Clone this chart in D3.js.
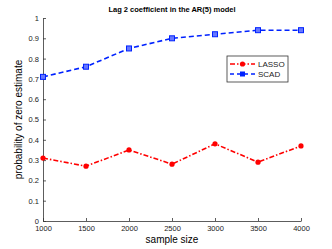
<!DOCTYPE html>
<html>
<head>
<meta charset="utf-8">
<script src="https://cdn.jsdelivr.net/npm/d3@7"></script>
<style>
  body { margin: 0; background: #fff; }
  svg { font-family: "Liberation Sans", Arial, sans-serif; }
</style>
</head>
<body>
<div id="container"></div>
<script>
const sampleSizes = [1000, 1500, 2000, 2500, 3000, 3500, 4000];
const lassoValues = [0.31, 0.27, 0.35, 0.28, 0.38, 0.29, 0.37];
const scadValues = [0.71, 0.76, 0.85, 0.90, 0.92, 0.94, 0.94];
const yTicks = [0, 0.1, 0.2, 0.3, 0.4, 0.5, 0.6, 0.7, 0.8, 0.9, 1];

const w = 332;
const h = 249;
const padLeft = 43, padRight = 301, padTop = 18, padBottom = 221;

const x = d3.scaleLinear().domain([1000, 4000]).range([padLeft, padRight]);
const y = d3.scaleLinear().domain([0, 1]).range([padBottom, padTop]);

const svg = d3.select("#container")
  .append("svg")
  .attr("width", w)
  .attr("height", h);

const xAxis = d3.axisBottom(x)
  .tickValues(sampleSizes)
  .tickFormat(d3.format("d"))
  .tickSizeInner(-3)
  .tickSizeOuter(0)
  .tickPadding(5);
const yAxis = d3.axisLeft(y)
  .tickValues(yTicks)
  .tickFormat(d => d3.format("")(d))
  .tickSizeInner(-3)
  .tickSizeOuter(0)
  .tickPadding(4);

const gx = svg.append("g")
  .attr("transform", `translate(0,${padBottom})`)
  .call(xAxis);
const gy = svg.append("g")
  .attr("transform", `translate(${padLeft},0)`)
  .call(yAxis);

[gx, gy].forEach(g => {
  g.selectAll("path, line").attr("stroke", "#333").attr("stroke-width", 0.8);
  g.selectAll("text").attr("fill", "#222").style("font-size", "7.5px");
});

// title and axis labels
svg.append("text")
  .attr("x", (padLeft + padRight) / 2)
  .attr("y", 12)
  .attr("text-anchor", "middle")
  .style("font-size", "7.5px")
  .style("font-weight", "bold")
  .text("Lag 2 coefficient in the AR(5) model");

svg.append("text")
  .attr("x", (padLeft + padRight) / 2)
  .attr("y", 243)
  .attr("text-anchor", "middle")
  .style("font-size", "10px")
  .text("sample size");

svg.append("text")
  .attr("transform", `translate(22,${(padTop + padBottom) / 2})rotate(-90)`)
  .attr("text-anchor", "middle")
  .style("font-size", "10px")
  .text("probability of zero estimate");

const line = d3.line()
  .x((d, i) => x(sampleSizes[i]))
  .y(d => y(d));

// SCAD
svg.append("path")
  .datum(scadValues)
  .attr("d", line)
  .attr("fill", "none")
  .attr("stroke", "#0022ff")
  .attr("stroke-width", 1.6)
  .attr("stroke-dasharray", "5,3");

svg.selectAll(".scad")
  .data(scadValues)
  .enter()
  .append("rect")
  .attr("class", "scad")
  .attr("x", (d, i) => x(sampleSizes[i]) - 2.5)
  .attr("y", d => y(d) - 2.5)
  .attr("width", 5)
  .attr("height", 5)
  .attr("fill", "#6677ff")
  .attr("stroke", "#0022ff")
  .attr("stroke-width", 1);

// LASSO
svg.append("path")
  .datum(lassoValues)
  .attr("d", line)
  .attr("fill", "none")
  .attr("stroke", "#ff0000")
  .attr("stroke-width", 1.6)
  .attr("stroke-dasharray", "5,2,1.5,2");

svg.selectAll(".lasso")
  .data(lassoValues)
  .enter()
  .append("circle")
  .attr("class", "lasso")
  .attr("cx", (d, i) => x(sampleSizes[i]))
  .attr("cy", d => y(d))
  .attr("r", 2.6)
  .attr("fill", "#ff0000");

// legend
const legend = svg.append("g").attr("transform", "translate(227,56)");
legend.append("rect")
  .attr("width", 61)
  .attr("height", 26)
  .attr("fill", "#fff")
  .attr("stroke", "#333")
  .attr("stroke-width", 0.8);

const legendItems = [
  {name: "LASSO", color: "#ff0000", dash: "5,2,1.5,2", marker: "circle"},
  {name: "SCAD", color: "#0022ff", dash: "4,3", marker: "square"}
];

legendItems.forEach((item, i) => {
  const ly = 8 + i * 10;
  legend.append("line")
    .attr("x1", 3).attr("x2", 28)
    .attr("y1", ly).attr("y2", ly)
    .attr("stroke", item.color)
    .attr("stroke-width", 1.6)
    .attr("stroke-dasharray", item.dash);
  if (item.marker === "circle") {
    legend.append("circle")
      .attr("cx", 15.5).attr("cy", ly).attr("r", 2.6)
      .attr("fill", item.color);
  } else {
    legend.append("rect")
      .attr("x", 13).attr("y", ly - 2.5)
      .attr("width", 5).attr("height", 5)
      .attr("fill", item.color);
  }
  legend.append("text")
    .attr("x", 31)
    .attr("y", ly + 3)
    .style("font-size", "8px")
    .attr("fill", "#222")
    .text(item.name);
});
</script>
</body>
</html>
